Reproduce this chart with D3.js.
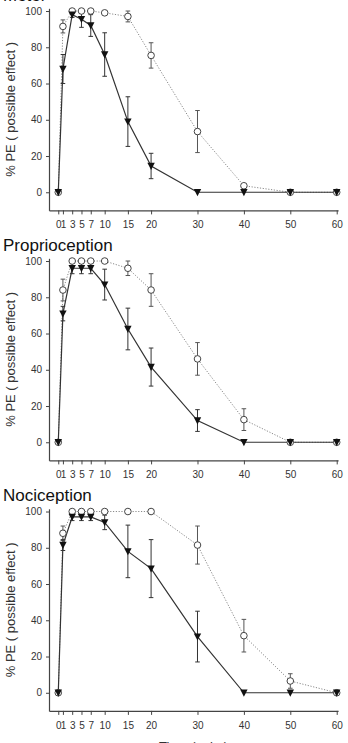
<!DOCTYPE html>
<html>
<head>
<meta charset="utf-8">
<script src="https://cdn.jsdelivr.net/npm/d3@7"></script>
<style>
  body { margin: 0; background: #fff; }
  svg { display: block; font-family: "Liberation Sans", Arial, sans-serif; }
  .axis path, .axis line { stroke: #444; }
  .axis text { fill: #333; font-size: 10px; font-family: "Liberation Sans", Arial, sans-serif; }
</style>
</head>
<body>
<div class="chart"></div>
<script>
////////// DATA //////////

var doses = [0, 1, 3, 5, 7, 10, 15, 20, 30, 40, 50, 60];
var xTicks = [0, 1, 3, 5, 7, 10, 15, 20, 30, 40, 50, 60];
var yTicks = [0, 20, 40, 60, 80, 100];
var titles = ["Motor", "Proprioception", "Nociception"];

// filled triangles (solid line)
var motorFilled     = [0, 68, 98, 95.5, 92, 76, 39, 14.5, 0, 0, 0, 0];
var motorFilledErr  = [0, 8, 1.5, 4.5, 6, 12, 13.7, 7, 0, 0, 0, 0];
var propFilled      = [0, 71, 96, 96, 96, 87, 62.5, 41.5, 12, 0, 0, 0];
var propFilledErr   = [0, 4, 3, 3, 3, 8.5, 11.5, 10.5, 6, 0, 0, 0];
var nociFilled      = [0, 81.5, 97, 97, 97, 94, 78, 68.5, 31, 0, 0, 0];
var nociFilledErr   = [0, 3, 2, 2, 2, 4, 14.5, 16, 14, 0, 0, 0];

// open circles (dotted line)
var motorOpen       = [0, 91.5, 100, 100, 100, 99, 97, 75.5, 33.5, 3.6, 0, 0];
var motorOpenErr    = [0, 3.6, 0, 0, 0, 0, 3, 7, 11.6, 1, 0, 0];
var propOpen        = [0, 84, 100, 100, 100, 100, 96, 84, 46, 12.5, 0, 0];
var propOpenErr     = [0, 6, 0, 0, 0, 0, 4, 9, 9, 6, 0, 0];
var nociOpen        = [0, 88, 100, 100, 100, 100, 100, 100, 81.5, 31.5, 6.5, 0];
var nociOpenErr     = [0, 4, 0, 0, 0, 0, 0, 0, 10.5, 9, 4, 0];

var panels = [
  { title: titles[0], filled: motorFilled, filledErr: motorFilledErr, open: motorOpen, openErr: motorOpenErr },
  { title: titles[1], filled: propFilled,  filledErr: propFilledErr,  open: propOpen,  openErr: propOpenErr },
  { title: titles[2], filled: nociFilled,  filledErr: nociFilledErr,  open: nociOpen,  openErr: nociOpenErr }
];


////////// SETUP //////////

var width = 348, height = 743;
var panelOffsets = [0, 250, 500.5];

var x = d3.scaleLinear()
    .domain([-2, 60.3])
    .range([49, 338.1]);

var y = d3.scaleLinear()
    .domain([-10, 101.5])
    .range([210.4, 8.3]);

var svg = d3.select(".chart")
  .append("svg")
    .attr("width", width)
    .attr("height", height);

var tri = "M-3.7,-3.2L3.7,-3.2L0,3.9Z";

function toPoints(vals, errs) {
  return doses.map(function(d, i) { return { dose: d, v: vals[i], e: errs[i] }; });
}

var line = d3.line()
    .x(function(d) { return x(d.dose); })
    .y(function(d) { return y(d.v); });


////////// PANELS //////////

panels.forEach(function(p, i) {
  var g = svg.append("g")
      .attr("transform", "translate(0," + panelOffsets[i] + ")");

  // title
  g.append("text")
      .attr("x", 3)
      .attr("y", 0.5)
      .attr("font-size", "17px")
      .attr("fill", "#111")
      .text(p.title);

  // axes
  g.append("g")
      .attr("class", "axis")
      .attr("transform", "translate(0," + y(-10) + ")")
      .call(d3.axisBottom(x).tickValues(xTicks).tickSizeInner(4).tickSizeOuter(0).tickPadding(7))
      .call(function(a) { a.select(".domain").attr("stroke-width", 1.2); });

  g.append("g")
      .attr("class", "axis")
      .attr("transform", "translate(" + x(-2) + ",0)")
      .call(d3.axisLeft(y).tickValues(yTicks).tickSizeInner(3).tickSizeOuter(0).tickPadding(4))
      .call(function(a) { a.select(".domain").attr("stroke-width", 1.2); });

  // y label
  g.append("text")
      .attr("transform", "translate(14.5," + ((y(-10) + y(101.5)) / 2) + ") rotate(-90)")
      .attr("text-anchor", "middle")
      .attr("font-size", "13px")
      .attr("fill", "#333")
      .text("% PE ( possible effect )");

  var open = toPoints(p.open, p.openErr);
  var filled = toPoints(p.filled, p.filledErr);

  // lines
  g.append("path")
      .datum(open)
      .attr("d", line)
      .attr("fill", "none")
      .attr("stroke", "#8a8a8a")
      .attr("stroke-width", 1)
      .attr("stroke-dasharray", "1.2,1.6");

  g.append("path")
      .datum(filled)
      .attr("d", line)
      .attr("fill", "none")
      .attr("stroke", "#333")
      .attr("stroke-width", 1.2);

  // error bars
  function errBars(data, colour) {
    var eb = g.append("g").selectAll("g")
      .data(data.filter(function(d) { return d.e > 0; }))
      .enter().append("g");
    eb.append("line")
        .attr("x1", function(d) { return x(d.dose); })
        .attr("x2", function(d) { return x(d.dose); })
        .attr("y1", function(d) { return y(d.v - d.e); })
        .attr("y2", function(d) { return y(Math.min(d.v + d.e, 101)); })
        .attr("stroke", colour);
    eb.selectAll(".cap")
      .data(function(d) { return [d.v - d.e, Math.min(d.v + d.e, 101)].map(function(v) { return { dose: d.dose, v: v }; }); })
      .enter().append("line")
        .attr("x1", function(d) { return x(d.dose) - 2.3; })
        .attr("x2", function(d) { return x(d.dose) + 2.3; })
        .attr("y1", function(d) { return y(d.v); })
        .attr("y2", function(d) { return y(d.v); })
        .attr("stroke", colour);
  }
  errBars(open, "#555");
  errBars(filled, "#333");

  // markers
  g.append("g").selectAll("circle")
    .data(open)
    .enter().append("circle")
      .attr("cx", function(d) { return x(d.dose); })
      .attr("cy", function(d) { return y(d.v); })
      .attr("r", 3.3)
      .attr("fill", "#fff")
      .attr("stroke", "#444")
      .attr("stroke-width", 1);

  g.append("g").selectAll("path")
    .data(filled)
    .enter().append("path")
      .attr("d", tri)
      .attr("transform", function(d) { return "translate(" + x(d.dose) + "," + y(d.v) + ")"; })
      .attr("fill", "#111");
});

// x label (mostly cut off at the bottom)
svg.append("text")
    .attr("x", (x(-2) + x(60.3)) / 2)
    .attr("y", 751)
    .attr("text-anchor", "middle")
    .attr("font-size", "13px")
    .attr("fill", "#333")
    .text("Time ( min )");
</script>
</body>
</html>
